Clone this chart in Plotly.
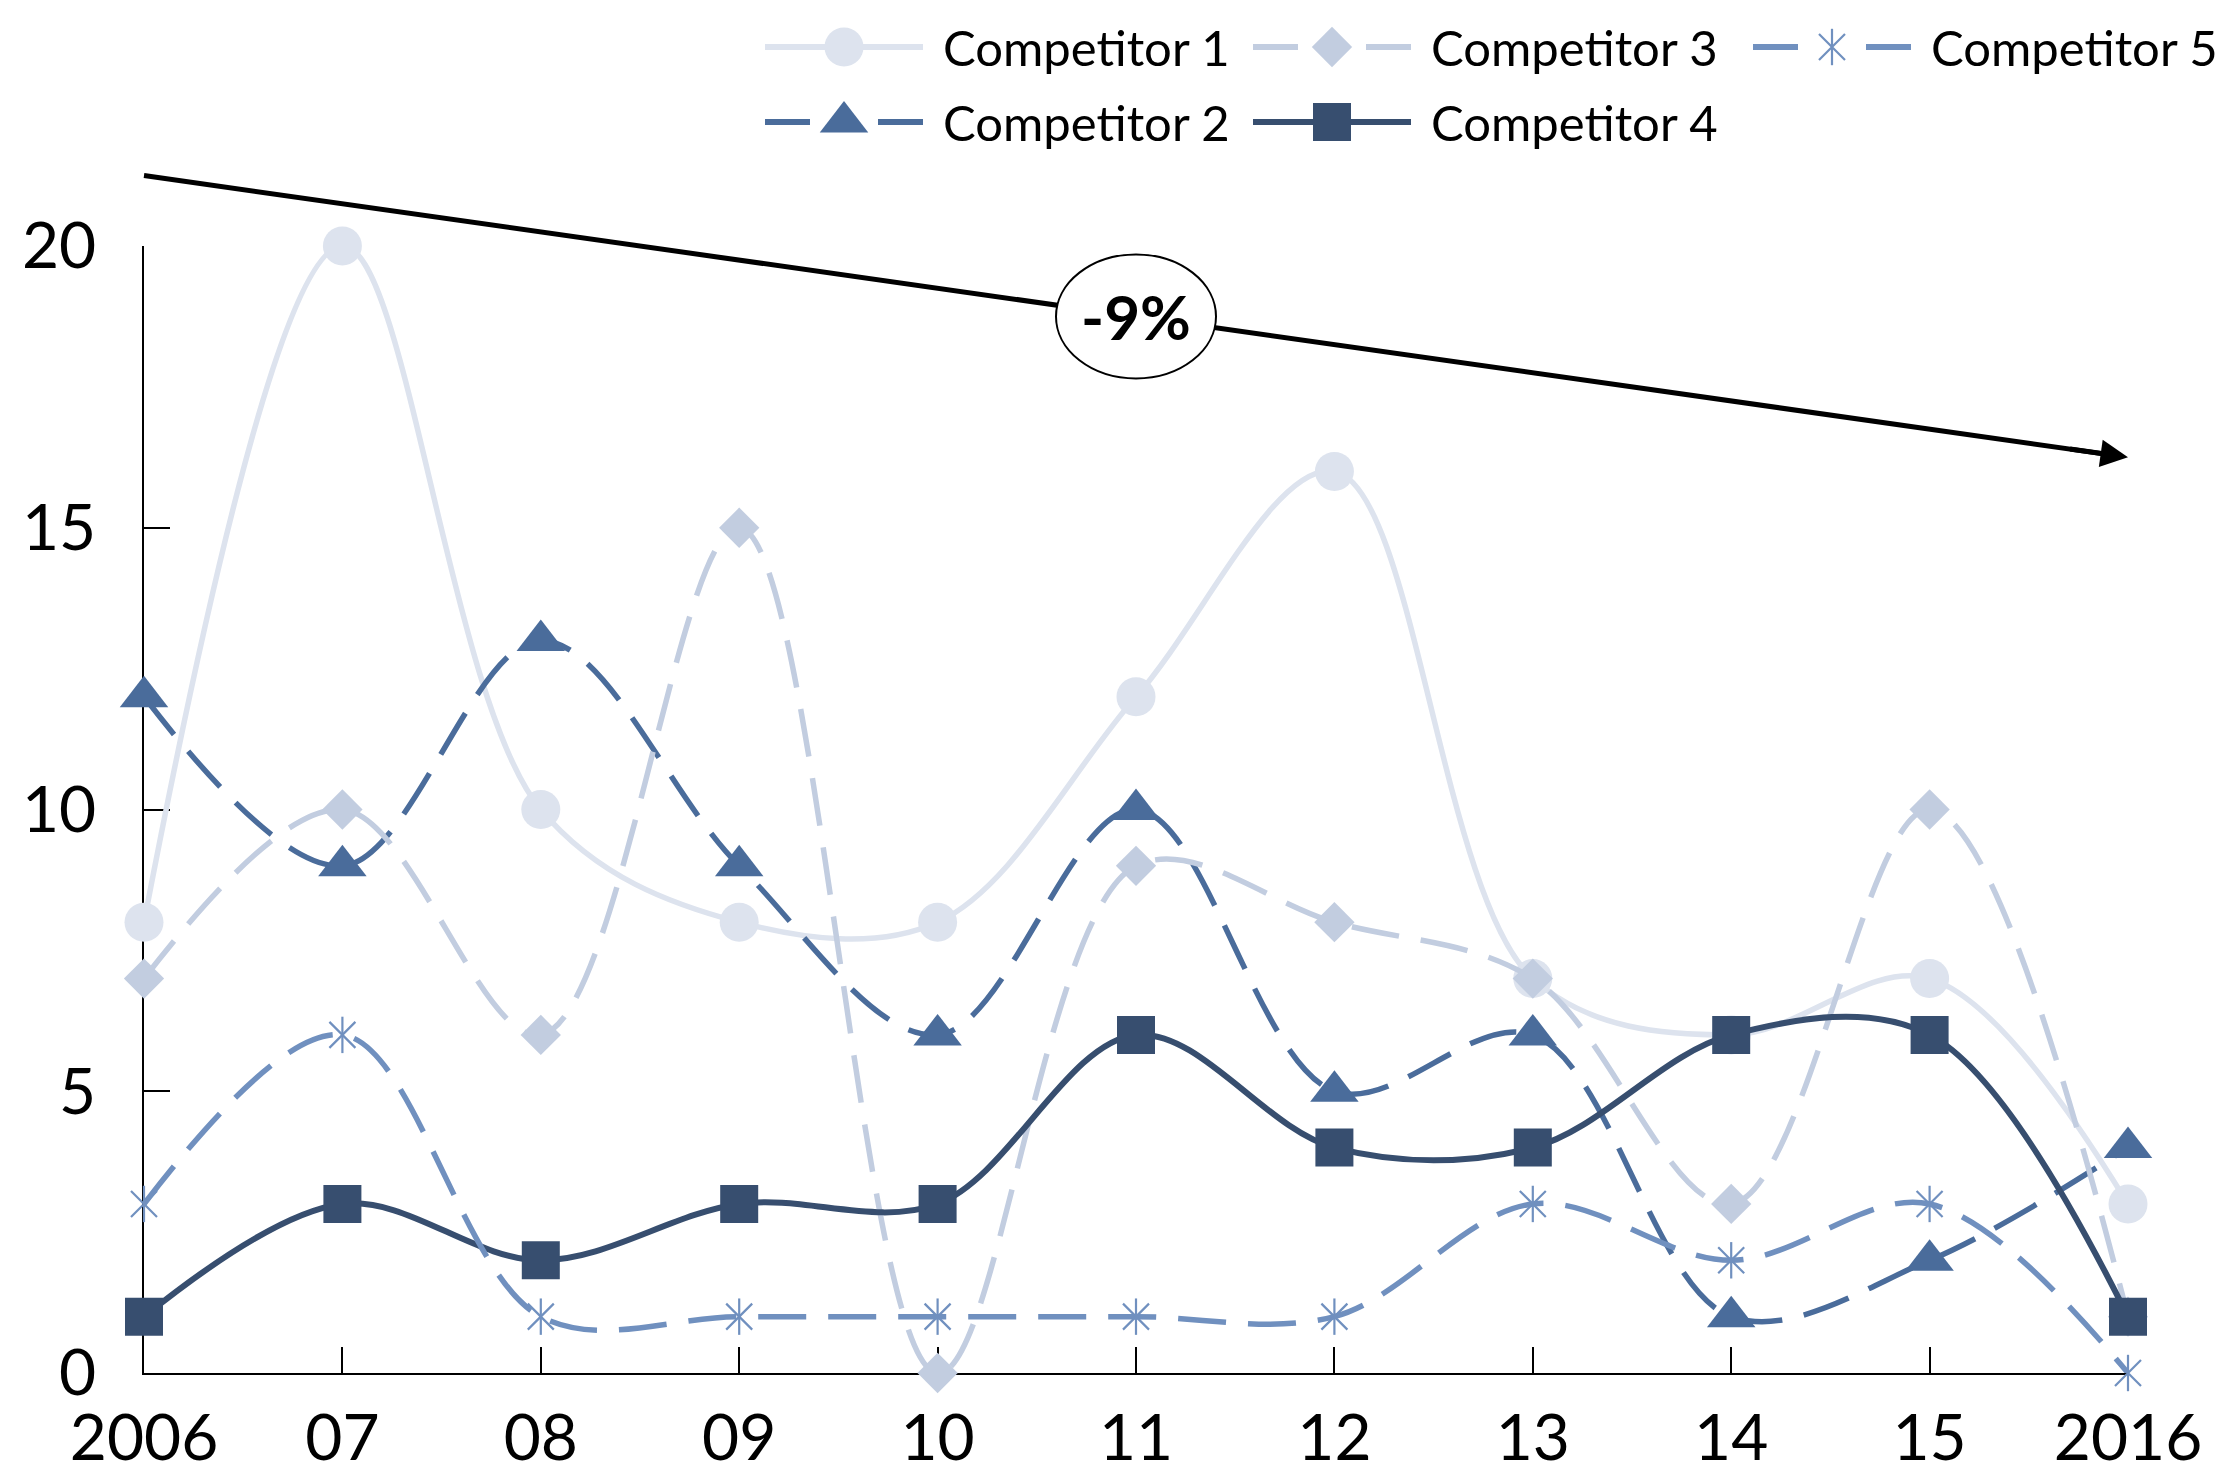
import plotly.graph_objects as go

# ---- data -------------------------------------------------------------
years = [2006, 2007, 2008, 2009, 2010, 2011, 2012, 2013, 2014, 2015, 2016]
year_labels = ["2006", "07", "08", "09", "10", "11", "12", "13", "14", "15", "2016"]
y_ticks = [0, 5, 10, 15, 20]

competitor_1 = [8, 20, 10, 8, 8, 12, 16, 7, 6, 7, 3]
competitor_2 = [12, 9, 13, 9, 6, 10, 5, 6, 1, 2, 4]
competitor_3 = [7, 10, 6, 15, 0, 9, 8, 7, 3, 10, 1]
competitor_4 = [1, 3, 2, 3, 3, 6, 4, 4, 6, 6, 1]
competitor_5 = [3, 6, 1, 1, 1, 1, 1, 3, 2, 3, 0]

series_names = ["Competitor 1", "Competitor 2", "Competitor 3", "Competitor 4", "Competitor 5"]
series_values = [competitor_1, competitor_2, competitor_3, competitor_4, competitor_5]

trend_label = "-9%"
trend_start = 21.25   # value level of the trend arrow tail (left edge)
trend_end = 16.25     # value level of the trend arrow head (right edge)

# ---- layout geometry (pixels) -----------------------------------------
W, H = 2220, 1474
PLOT_L, PLOT_R, PLOT_T, PLOT_B = 144, 2128, 246, 1373
Y_MIN, Y_MAX = 0, 20
X_MIN, X_MAX = years[0], years[-1]


def px_x(px):
    return px / W


def px_y(py):
    return 1 - py / H


X_DOM = [px_x(PLOT_L), px_x(PLOT_R)]
Y_DOM = [px_y(PLOT_B), px_y(PLOT_T)]


def val_to_paper_x(v):
    return X_DOM[0] + (v - X_MIN) / (X_MAX - X_MIN) * (X_DOM[1] - X_DOM[0])


def val_to_paper_y(v):
    return Y_DOM[0] + (v - Y_MIN) / (Y_MAX - Y_MIN) * (Y_DOM[1] - Y_DOM[0])


FONT = "Lato, 'Open Sans', sans-serif"
DASH = "48px,22px"

styles = {
    "Competitor 1": dict(color="#DDE3EE", dash="solid", symbols=["circle"], size=39, lw=5.5),
    "Competitor 2": dict(color="#4A6C9B", dash=DASH, symbols=["triangle-up"], size=42, lw=5.5),
    "Competitor 3": dict(color="#C2CDE0", dash=DASH, symbols=["diamond"], size=31, lw=5.5),
    "Competitor 4": dict(color="#374E6F", dash="solid", symbols=["square"], size=38, lw=6),
    "Competitor 5": dict(color="#7090BF", dash=DASH, symbols=["x-thin-open", "line-ns-open"], size=26, lw=5.5),
}

fig = go.Figure()

# ---- series -----------------------------------------------------------
for name, values in zip(series_names, series_values):
    st = styles[name]
    fig.add_trace(go.Scatter(
        x=years, y=values, name=name, mode="lines",
        line=dict(color=st["color"], width=st["lw"], dash=st["dash"],
                  shape="spline", smoothing=1.0),
        showlegend=False, cliponaxis=False, hoverinfo="skip",
    ))
    for sym in st["symbols"]:
        fig.add_trace(go.Scatter(
            x=years, y=values, name=name, mode="markers",
            marker=dict(symbol=sym, size=st["size"], color=st["color"],
                        line=dict(width=2.2 if sym.endswith("open") else 0,
                                  color=st["color"])),
            showlegend=False, cliponaxis=False,
        ))

# ---- legend (two rows, three columns) ---------------------------------
legend_cols = [765, 1253, 1753]
legend_rows = [47, 122]
legend_slots = {
    "Competitor 1": (0, 0), "Competitor 3": (1, 0), "Competitor 5": (2, 0),
    "Competitor 2": (0, 1), "Competitor 4": (1, 1),
}
SWATCH_LEN = 158
TEXT_GAP = 176

for name in series_names:
    st = styles[name]
    col, row = legend_slots[name]
    x0 = legend_cols[col]
    yy = legend_rows[row]
    dash = "solid" if st["dash"] == "solid" else "45px,68px"
    fig.add_trace(go.Scatter(
        x=[x0, x0 + SWATCH_LEN], y=[yy, yy], mode="lines",
        line=dict(color=st["color"], width=6, dash=dash),
        xaxis="x2", yaxis="y2", showlegend=False, hoverinfo="skip",
    ))
    for sym in st["symbols"]:
        fig.add_trace(go.Scatter(
            x=[x0 + SWATCH_LEN / 2], y=[yy], mode="markers",
            marker=dict(symbol=sym, size=st["size"], color=st["color"],
                        line=dict(width=2.2 if sym.endswith("open") else 0,
                                  color=st["color"])),
            xaxis="x2", yaxis="y2", showlegend=False, hoverinfo="skip",
            cliponaxis=False,
        ))
    fig.add_annotation(
        x=px_x(x0 + TEXT_GAP), y=px_y(yy), xref="paper", yref="paper",
        text=name, showarrow=False, xanchor="left", yanchor="middle",
        font=dict(family=FONT, size=49, color="black"),
    )

# ---- trend arrow with label --------------------------------------------
tx0, ty0 = val_to_paper_x(X_MIN), val_to_paper_y(trend_start)
tx1, ty1 = val_to_paper_x(X_MAX), val_to_paper_y(trend_end)
cx, cy = (tx0 + tx1) / 2, (ty0 + ty1) / 2

fig.add_shape(type="line", xref="paper", yref="paper",
              x0=tx0, y0=ty0, x1=tx1 - 12 / W, y1=ty1 + 1.7 / H,
              line=dict(color="black", width=5), layer="above")
fig.add_shape(type="circle", xref="paper", yref="paper",
              x0=cx - 80 / W, x1=cx + 80 / W, y0=cy - 62 / H, y1=cy + 62 / H,
              line=dict(color="black", width=2), fillcolor="white", layer="above")
fig.add_annotation(x=cx, y=cy, xref="paper", yref="paper", text=trend_label,
                   showarrow=False, xanchor="center", yanchor="middle",
                   font=dict(family=FONT, size=62, color="black", weight="bold"))

# arrowhead along the trend direction
dx_px = (tx1 - tx0) * W
dy_px = (ty0 - ty1) * H
norm = (dx_px ** 2 + dy_px ** 2) ** 0.5
fig.add_annotation(x=tx1, y=ty1, xref="paper", yref="paper", text="",
                   showarrow=True, arrowhead=2, arrowsize=1.1, arrowwidth=5,
                   arrowcolor="black", ax=-60 * dx_px / norm, ay=-60 * dy_px / norm,
                   standoff=0)

# ---- axes --------------------------------------------------------------
axis_common = dict(
    showline=True, linecolor="black", linewidth=2,
    ticks="inside", ticklen=26, tickwidth=2, tickcolor="black",
    showgrid=False, zeroline=False, layer="below traces",
    fixedrange=True,
)

fig.update_layout(
    width=W, height=H, autosize=False,
    margin=dict(l=0, r=0, t=0, b=0, autoexpand=False),
    paper_bgcolor="white", plot_bgcolor="rgba(0,0,0,0)",
    showlegend=False,
    xaxis=dict(domain=X_DOM, range=[X_MIN, X_MAX], tickmode="array",
               tickvals=years, ticktext=year_labels, ticklabelstandoff=8,
               tickfont=dict(family=FONT, size=64, color="black"),
               anchor="y", **axis_common),
    yaxis=dict(domain=Y_DOM, range=[Y_MIN, Y_MAX], tickmode="array",
               tickvals=y_ticks, ticklabelstandoff=33,
               tickfont=dict(family=FONT, size=64, color="black"),
               anchor="x", **axis_common),
    xaxis2=dict(domain=[0, 1], range=[0, W], visible=False, anchor="y2", fixedrange=True),
    yaxis2=dict(domain=[0, 1], range=[H, 0], visible=False, anchor="x2", fixedrange=True),
)

fig.write_html("out.html")
